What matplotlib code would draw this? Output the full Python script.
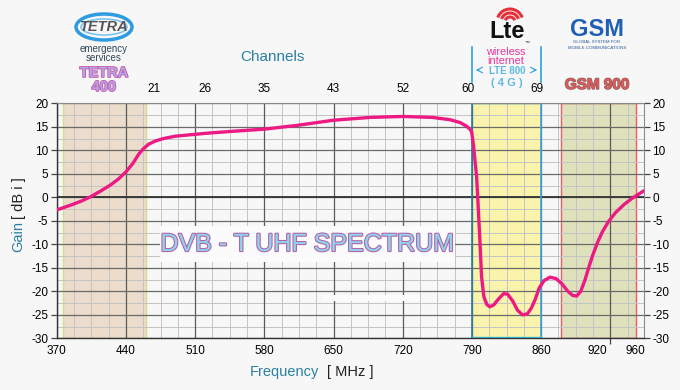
import numpy as np
import matplotlib
matplotlib.use("Agg")
import matplotlib.pyplot as plt
from matplotlib.patches import Rectangle, Ellipse, Arc
import matplotlib.patheffects as pe

plt.rcParams['font.family'] = ['Liberation Sans', 'DejaVu Sans']

# ---------------- data ----------------
freq = [370, 385, 395, 405, 415, 425, 433, 440, 447, 453, 458, 463, 470, 478,
        490, 505, 520, 545, 580, 613, 650, 687, 720, 750, 768, 778, 784, 787.5,
        789.6, 791.3, 793, 794.7, 796.3, 798, 799.7, 802, 805, 808, 812, 817,
        822, 826, 831, 836, 841, 846, 850, 854, 858, 863, 869, 875, 881, 887,
        892, 896, 900, 904, 908, 912, 917, 922, 928, 935, 944, 952, 958, 964]
gain = [-2.7, -1.6, -0.8, 0.2, 1.4, 2.7, 4.0, 5.4, 7.2, 9.2, 10.4, 11.3, 12.0, 12.5,
        13.0, 13.3, 13.6, 14.0, 14.5, 15.3, 16.4, 17.0, 17.2, 17.0, 16.5, 15.9, 15.2, 14.6,
        14.0, 11.5, 8.0, 4.4, -2.0, -9.1, -16.9, -21.1, -22.8, -23.3, -22.9, -21.6,
        -20.5, -20.6, -22.0, -24.0, -25.0, -24.8, -23.6, -21.7, -19.3, -17.7, -17.0, -17.3, -18.4, -20.0,
        -20.9, -21.0, -20.0, -17.8, -15.0, -12.4, -9.6, -7.3, -5.2, -3.3, -1.5, -0.2, 0.6, 1.4]

x_tick_pos = [370, 440, 510, 580, 650, 720, 790, 860, 917, 955]
x_tick_lab = ['370', '440', '510', '580', '650', '720', '790', '860', '920', '960']
ch_pos = [468, 520, 580, 650, 720, 786, 856]
ch_lab = ['21', '26', '35', '43', '52', '60', '69']
y_ticks = [-30, -25, -20, -15, -10, -5, 0, 5, 10, 15, 20]

bands = {  # name: (start MHz, end MHz)
    'TETRA 400': (376, 460),
    'LTE 800': (790, 860),
    'GSM 900': (880, 956),
}

XMIN, XMAX, YMIN, YMAX = 370, 964, -30, 20
BG = '#f7f7f7'

# ---------------- figure ----------------
fig = plt.figure(figsize=(6.8, 3.9), dpi=100, facecolor=BG)
W, H = 680, 390
ax = fig.add_axes([56.7 / W, 1 - 338.3 / H, (644 - 56.7) / W, (338.3 - 103.3) / H])
ax.set_facecolor(BG)
ax.set_xlim(XMIN, XMAX)
ax.set_ylim(YMIN, YMAX)

# bands
t0, t1 = bands['TETRA 400']
ax.add_patch(Rectangle((t0, YMIN), t1 - t0, YMAX - YMIN, facecolor='#ecdccb',
                       edgecolor='#cfe08f', lw=1.0, zorder=1))
l0, l1 = bands['LTE 800']
ax.add_patch(Rectangle((l0, YMIN), l1 - l0, YMAX - YMIN, facecolor='#faf3ab',
                       edgecolor='none', zorder=1))
g0, g1 = bands['GSM 900']
ax.add_patch(Rectangle((g0, YMIN), g1 - g0, YMAX - YMIN, facecolor='#dfe1bd',
                       edgecolor='#e8606a', lw=1.0, zorder=1))

# grid
for xv in np.arange(XMIN, XMAX, 17.5):
    ax.axvline(xv, color='#c4c4c4', lw=0.7, zorder=2)
for yv in np.arange(YMIN, YMAX + 0.1, 2.5):
    ax.axhline(yv, color='#c4c4c4', lw=0.7, zorder=2)
for xv in np.arange(XMIN, XMAX, 70):
    ax.axvline(xv, color='#5a5a5a', lw=0.9, zorder=2.2)
for yv in y_ticks:
    ax.axhline(yv, color='#6a6a6a', lw=0.9, zorder=2.2)
ax.axhline(0, color='#333333', lw=1.3, zorder=2.3)

# LTE band edges
ax.plot([l0, l0], [YMIN, YMAX], color='#2a7fa6', lw=1.2, zorder=2.5)
ax.plot([l1, l1], [YMIN, YMAX], color='#3aa6e0', lw=1.2, zorder=2.5)
ax.plot([l0, l1], [YMIN + 0.3, YMIN + 0.3], color='#3cc8e8', lw=1.0, zorder=2.5)
ax.plot([l0, l1], [YMAX, YMAX], color='#3aa6e0', lw=1.0, zorder=2.5)

# curve
ax.plot(freq, gain, color='#ec1a82', lw=2.4, zorder=5, solid_joinstyle='round',
        solid_capstyle='round', clip_on=True)

# axes styling
for s in ['top', 'right']:
    ax.spines[s].set_color('#8a8a8a')
    ax.spines[s].set_linewidth(0.8)
for s in ['left', 'bottom']:
    ax.spines[s].set_color('#333333')
    ax.spines[s].set_linewidth(1.0)

ax.set_yticks(y_ticks)
ax.set_yticklabels([str(v) for v in y_ticks])
ax.tick_params(axis='y', which='both', left=True, right=True, labelleft=True,
               labelright=True, direction='out', length=4, width=0.9,
               color='#444444', labelsize=8.5, pad=2)

ax.set_xticks(x_tick_pos)
ax.set_xticklabels(x_tick_lab)
ax.tick_params(axis='x', which='major', length=0, labelsize=8.5, pad=5)
ax.set_xticks(np.arange(XMIN, XMAX, 70), minor=True)
ax.tick_params(axis='x', which='minor', direction='out', length=4, width=0.9,
               color='#444444', top=True, bottom=True)

axt = ax.twiny()
axt.set_xlim(XMIN, XMAX)
axt.set_xticks(ch_pos)
axt.set_xticklabels(ch_lab)
axt.tick_params(axis='x', length=0, labelsize=8.5, pad=6)
for s in axt.spines.values():
    s.set_visible(False)

# ---------------- decorations (pixel coordinates) ----------------
ov = fig.add_axes([0, 0, 1, 1], facecolor='none')
ov.set_xlim(0, W)
ov.set_ylim(H, 0)
ov.axis('off')

teal = '#2b7fa3'
dark = '#222222'

# axis titles
ov.text(18, 237, 'Gain', rotation=90, ha='center', va='center', color=teal, fontsize=10.5)
ov.text(19, 198, '[ dB i ]', rotation=90, ha='center', va='center', color=dark, fontsize=10.5)
ov.text(284, 372, 'Frequency', ha='center', va='center', color=teal, fontsize=10.5)
ov.text(350, 372, '[ MHz ]', ha='center', va='center', color=dark, fontsize=10.5)
ov.text(272, 57, 'Channels', ha='center', va='center', color=teal, fontsize=11)

# TETRA logo
ov.add_patch(Ellipse((104, 27), 56, 26, facecolor='none', edgecolor='#2f9be0', lw=2.5))
ov.add_patch(Ellipse((104, 27), 46, 16, facecolor='none', edgecolor='#7cc6f0', lw=1.2))
ov.text(104, 27, 'TETRA', ha='center', va='center', color='#555555', fontsize=10.5,
        fontweight='bold', fontstyle='italic')
ov.text(104, 49, 'emergency', ha='center', va='center', color='#2e4856', fontsize=7)
ov.text(104, 58, 'services', ha='center', va='center', color='#2e4856', fontsize=7)
outline = [pe.Stroke(linewidth=1.2, foreground='#c45aa8'), pe.Normal()]
ov.text(104, 73, 'TETRA', ha='center', va='center', color='#b8a2e6', fontsize=10.5,
        fontweight='bold', path_effects=outline)
ov.text(104, 87, '400', ha='center', va='center', color='#b8a2e6', fontsize=10.5,
        fontweight='bold', path_effects=outline)

# LTE logo
for r, lw in [(5, 2.2), (9, 2.2), (13, 2.2)]:
    ov.add_patch(Arc((510, 22), r * 2, r * 2, theta1=200, theta2=340, color='#e8303a', lw=lw))
ov.text(507, 32, 'Lte', ha='center', va='center', color='#111111', fontsize=17,
        fontweight='bold')
ov.text(527, 42, '\u2122', ha='center', va='center', color='#111111', fontsize=3.5)
ov.text(506, 52, 'wireless', ha='center', va='center', color='#e8329a', fontsize=7.8)
ov.text(506, 61, 'internet', ha='center', va='center', color='#e8329a', fontsize=7.8)
lteblue = '#2aa3e0'
ov.plot([472, 472], [47, 82], color=lteblue, lw=1.2)
ov.plot([541, 541], [47, 82], color=lteblue, lw=1.2)
ov.annotate('', xy=(473, 70), xytext=(482, 70),
            arrowprops=dict(arrowstyle='->', color=lteblue, lw=0.8))
ov.annotate('', xy=(540, 70), xytext=(531, 70),
            arrowprops=dict(arrowstyle='->', color=lteblue, lw=0.8))
ov.text(507, 71, 'LTE 800', ha='center', va='center', color='#5db9e4', fontsize=7,
        fontweight='bold')
ov.text(507, 83, '( 4 G )', ha='center', va='center', color='#5db9e4', fontsize=8,
        fontweight='bold')

# GSM logo
ov.text(597, 29, 'GSM', ha='center', va='center', color='#1f5fb4', fontsize=17,
        fontweight='bold')
ov.text(597, 42, 'GLOBAL SYSTEM FOR', ha='center', va='center', color='#2a5a9a', fontsize=3.2)
ov.text(597, 48, 'MOBILE COMMUNICATIONS', ha='center', va='center', color='#2a5a9a', fontsize=3.2)
ov.text(597, 85, 'GSM 900', ha='center', va='center', color='#e05a5a', fontsize=11,
        fontweight='bold', path_effects=[pe.Stroke(linewidth=1.0, foreground='#8c6060'), pe.Normal()])

# DVB-T title box
ov.add_patch(Rectangle((160, 226), 295, 36, facecolor='#fbfbfb', edgecolor='none', zorder=3))
ov.add_patch(Rectangle((322, 295), 98, 6, facecolor='#fbfbfb', edgecolor='none', zorder=3))
ov.text(307, 244, 'DVB - T UHF SPECTRUM', ha='center', va='center', color='#8fd4ee',
        fontsize=18, zorder=4,
        path_effects=[pe.Stroke(linewidth=1.6, foreground='#b465a8'), pe.Normal()])

fig.savefig('out.png', dpi=100, facecolor=BG)
